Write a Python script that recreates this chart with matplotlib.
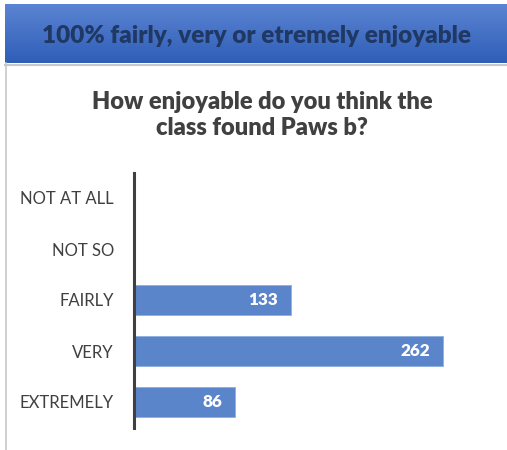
import matplotlib.pyplot as plt
import numpy as np
from matplotlib.lines import Line2D

categories = ["NOT AT ALL", "NOT SO", "FAIRLY", "VERY", "EXTREMELY"]
counts = [0, 0, 133, 262, 86]
header = "100% fairly, very or etremely enjoyable"
title = "How enjoyable do you think the\nclass found Paws b?"

plt.rcParams['font.family'] = ['Lato', 'DejaVu Sans']

W, H = 507, 450
fig = plt.figure(figsize=(W / 100, H / 100), dpi=100)

# header banner with vertical gradient
hax = fig.add_axes([5 / W, (H - 63) / H, 1 - 5 / W, 59 / H])
top = np.array([0x5B, 0x84, 0xD2]) / 255
bot = np.array([0x2F, 0x5E, 0xB8]) / 255
t = np.linspace(0, 1, 64)[:, None]
grad = (top * (1 - t) + bot * t)[:, None, :]
hax.imshow(grad, aspect="auto", extent=[0, 1, 0, 1])
hax.set_xlim(0, 1)
hax.set_ylim(0, 1)
hax.axis("off")
hax.text(0.5, 0.45, header, ha="center", va="center", fontsize=17.5,
         fontweight="heavy", color="#1F3864")

# frame lines below the banner
fig.add_artist(Line2D([5.5 / W, 5.5 / W], [0, (H - 63) / H], color="#C8C8C8", lw=1.2))
fig.add_artist(Line2D([5 / W, 1], [(H - 64.5) / H, (H - 64.5) / H], color="#C8C8C8", lw=1.5))

fig.text(262 / W, 1 - 115 / H, title, ha="center", va="center", fontsize=17,
         fontweight="heavy", color="#404040", linespacing=1.2)

ax = fig.add_axes([134 / W, 22.5 / H, 346 / W, 255 / H])
y = np.arange(len(categories))
bars = ax.barh(y, counts, height=0.58, color="#5B85CA", edgecolor="#8FAEDF", linewidth=0.6)
ax.set_ylim(len(categories) - 0.5, -0.5)
ax.set_xlim(0, 346 / 1.18)
ax.set_yticks(y)
ax.set_yticklabels(categories, fontsize=12, color="#404040")
ax.tick_params(axis="y", length=0, pad=14.4)
ax.set_xticks([])
for s in ["top", "right", "bottom"]:
    ax.spines[s].set_visible(False)
ax.spines["left"].set_color("#404040")
ax.spines["left"].set_linewidth(2.2)

for b, v in zip(bars, counts):
    if v > 0:
        ax.annotate(str(v), (v, b.get_y() + b.get_height() / 2), xytext=(-13, 0),
                    textcoords="offset pixels", ha="right", va="center",
                    fontsize=12.3, fontweight="heavy", color="white")

fig.savefig("out.png", dpi=100)
